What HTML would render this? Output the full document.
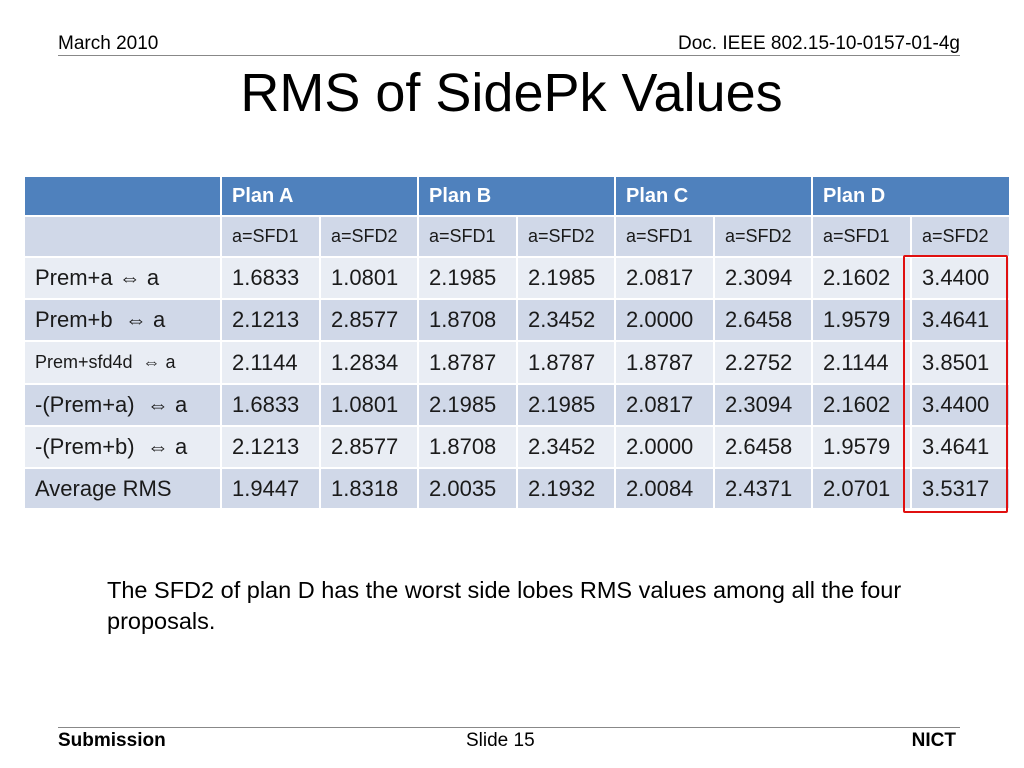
<!DOCTYPE html>
<html><head><meta charset="utf-8"><style>
body{margin:0;width:1024px;height:768px;background:#fff;position:relative;overflow:hidden;font-family:"Liberation Sans",sans-serif;color:#000}
.a{position:absolute;white-space:nowrap}
table{position:absolute;left:23px;top:175px;border-collapse:collapse;table-layout:fixed;width:986px}
td{border:2px solid #fff;padding:0 0 0 10px;font-size:22px;color:#1a1a1a;overflow:hidden;white-space:nowrap}
tr.h td{background:#4F81BD;color:#fff;font-weight:bold;font-size:20px;height:38px}
tr.d td{background:#D0D8E8}
tr.l td{background:#E9EDF4}
tr.s td{font-size:18px;height:39px}
</style></head><body>
<div class="a" style="left:58px;top:33px;font-size:19px">March 2010</div>
<div class="a" style="right:64px;top:33px;font-size:19px">Doc. IEEE 802.15-10-0157-01-4g</div>
<div class="a" style="left:58px;top:55px;width:902px;height:1px;background:#888"></div>
<div class="a" style="left:200px;top:62px;font-size:54px;width:623px;text-align:center">RMS of SidePk Values</div>
<table>
<colgroup><col style="width:197px"><col style="width:99px"><col style="width:98px"><col style="width:99px"><col style="width:98px"><col style="width:99px"><col style="width:98px"><col style="width:99px"><col style="width:99px"></colgroup>
<tr class="h"><td></td><td colspan="2">Plan A</td><td colspan="2">Plan B</td><td colspan="2">Plan C</td><td colspan="2">Plan D</td></tr>
<tr class="d s"><td></td><td>a=SFD1</td><td>a=SFD2</td><td>a=SFD1</td><td>a=SFD2</td><td>a=SFD1</td><td>a=SFD2</td><td>a=SFD1</td><td>a=SFD2</td></tr>
<tr class="l" style="height:42px"><td>Prem+a ⇔ a</td><td>1.6833</td><td>1.0801</td><td>2.1985</td><td>2.1985</td><td>2.0817</td><td>2.3094</td><td>2.1602</td><td>3.4400</td></tr>
<tr class="d" style="height:42px"><td>Prem+b &nbsp;⇔ a</td><td>2.1213</td><td>2.8577</td><td>1.8708</td><td>2.3452</td><td>2.0000</td><td>2.6458</td><td>1.9579</td><td>3.4641</td></tr>
<tr class="l" style="height:43px"><td style="font-size:18px">Prem+sfd4d &nbsp;⇔ a</td><td>2.1144</td><td>1.2834</td><td>1.8787</td><td>1.8787</td><td>1.8787</td><td>2.2752</td><td>2.1144</td><td>3.8501</td></tr>
<tr class="d" style="height:42px"><td>-(Prem+a) &nbsp;⇔ a</td><td>1.6833</td><td>1.0801</td><td>2.1985</td><td>2.1985</td><td>2.0817</td><td>2.3094</td><td>2.1602</td><td>3.4400</td></tr>
<tr class="l" style="height:42px"><td>-(Prem+b) &nbsp;⇔ a</td><td>2.1213</td><td>2.8577</td><td>1.8708</td><td>2.3452</td><td>2.0000</td><td>2.6458</td><td>1.9579</td><td>3.4641</td></tr>
<tr class="d" style="height:41px"><td>Average RMS</td><td>1.9447</td><td>1.8318</td><td>2.0035</td><td>2.1932</td><td>2.0084</td><td>2.4371</td><td>2.0701</td><td>3.5317</td></tr>
</table>
<div class="a" style="left:903px;top:255px;width:101px;height:254px;border:2px solid #e01010;border-radius:2px"></div>
<div class="a" style="left:107px;top:575px;font-size:23.5px;line-height:31px;white-space:normal;width:880px">The SFD2 of plan D has the worst side lobes RMS values among all the four proposals.</div>
<div class="a" style="left:58px;top:727px;width:902px;height:1px;background:#888"></div>
<div class="a" style="left:58px;top:730px;font-size:19px;font-weight:bold">Submission</div>
<div class="a" style="left:466px;top:730px;font-size:19px">Slide 15</div>
<div class="a" style="right:68px;top:730px;font-size:19px;font-weight:bold">NICT</div>
</body></html>
